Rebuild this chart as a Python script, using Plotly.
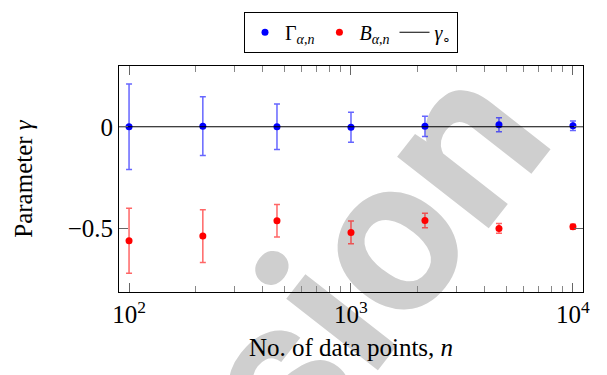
import numpy as np
import plotly.graph_objects as go

# ---- data ----
n_points = [100, 215, 464, 1000, 2154, 4642, 10000]
gamma_hat = [0.000, 0.003, 0.000, -0.003, 0.002, 0.010, 0.005]
gamma_err = [0.211, 0.145, 0.112, 0.074, 0.050, 0.035, 0.023]
b_hat = [-0.563, -0.540, -0.464, -0.522, -0.463, -0.502, -0.494]
b_err = [0.160, 0.130, 0.080, 0.056, 0.036, 0.024, 0.012]
gamma0 = 0.0
x_range = [90.1, 11100]
y_range = [-0.816, 0.30]
x_ticks = [100, 1000, 10000]
x_ticktext = ["10<sup>2</sup>", "10<sup>3</sup>", "10<sup>4</sup>"]
x_minor = [200, 300, 400, 500, 600, 700, 800, 900,
           2000, 3000, 4000, 5000, 6000, 7000, 8000, 9000]
y_ticks = [0, -0.5]
y_ticktext = ["0", "\u22120.5"]

SERIF = "Liberation Serif"
BLUE = "#0000ff"
RED = "#ff0000"

fig = go.Figure()

fig.add_trace(go.Scatter(
    x=n_points, y=gamma_hat, mode="markers",
    name="\u0393<sub><i>\u03b1</i>,<i>n</i></sub>",
    marker=dict(color=BLUE, size=7),
    error_y=dict(type="data", array=gamma_err, visible=True,
                 color="rgba(0,0,255,0.6)", thickness=1.5, width=3),
))
fig.add_trace(go.Scatter(
    x=n_points, y=b_hat, mode="markers",
    name="<i>B</i><sub><i>\u03b1</i>,<i>n</i></sub>",
    marker=dict(color=RED, size=7),
    error_y=dict(type="data", array=b_err, visible=True,
                 color="rgba(255,0,0,0.6)", thickness=1.5, width=3),
))
fig.add_trace(go.Scatter(
    x=x_range, y=[gamma0, gamma0], mode="lines",
    name="<i>\u03b3</i><sub>\u2218</sub>",
    line=dict(color="black", width=1.2),
))

# watermark (drawn below data)
fig.add_shape(
    type="rect", xref="paper", yref="paper",
    x0=0.503, x1=0.523, y0=0.18, y1=0.20, layer="below",
    line=dict(width=0), fillcolor="rgba(0,0,0,0)",
    label=dict(text="sion", textangle=-52, textposition="middle center",
               font=dict(family="Roboto", size=220, color="#cfcfcf",
                         weight="bold")),
)

fig.update_layout(
    width=607, height=375,
    margin=dict(l=119, r=24, t=62, b=83),
    paper_bgcolor="white", plot_bgcolor="white",
    font=dict(family=SERIF, size=25, color="black"),
    showlegend=True,
    legend=dict(orientation="h", x=0.5, xanchor="center", y=1.24, yanchor="top",
                bordercolor="black", borderwidth=1, bgcolor="white",
                font=dict(family=SERIF, size=20), itemwidth=30,
                tracegroupgap=0),
    xaxis=dict(
        type="log", range=[np.log10(x_range[0]), np.log10(x_range[1])],
        tickmode="array", tickvals=x_ticks, ticktext=x_ticktext,
        ticks="inside", ticklen=9, tickcolor="#666", tickwidth=1,
        minor=dict(tickmode="array", tickvals=x_minor, ticks="inside",
                   ticklen=6, tickcolor="#888", showgrid=False),
        showline=True, linecolor="black", linewidth=1, mirror="allticks",
        showgrid=False, zeroline=False,
        title=dict(text="No. of data points, <i>n</i>", font=dict(size=25), standoff=11),
    ),
    yaxis=dict(
        range=y_range, tickmode="array", tickvals=y_ticks, ticktext=y_ticktext,
        ticks="inside", ticklen=9, tickcolor="#666", tickwidth=1,
        showline=True, linecolor="black", linewidth=1, mirror="allticks",
        showgrid=False, zeroline=False,
        title=dict(text="Parameter <i>\u03b3</i>", font=dict(size=25), standoff=27),
    ),
)

fig.write_html("out.html")
